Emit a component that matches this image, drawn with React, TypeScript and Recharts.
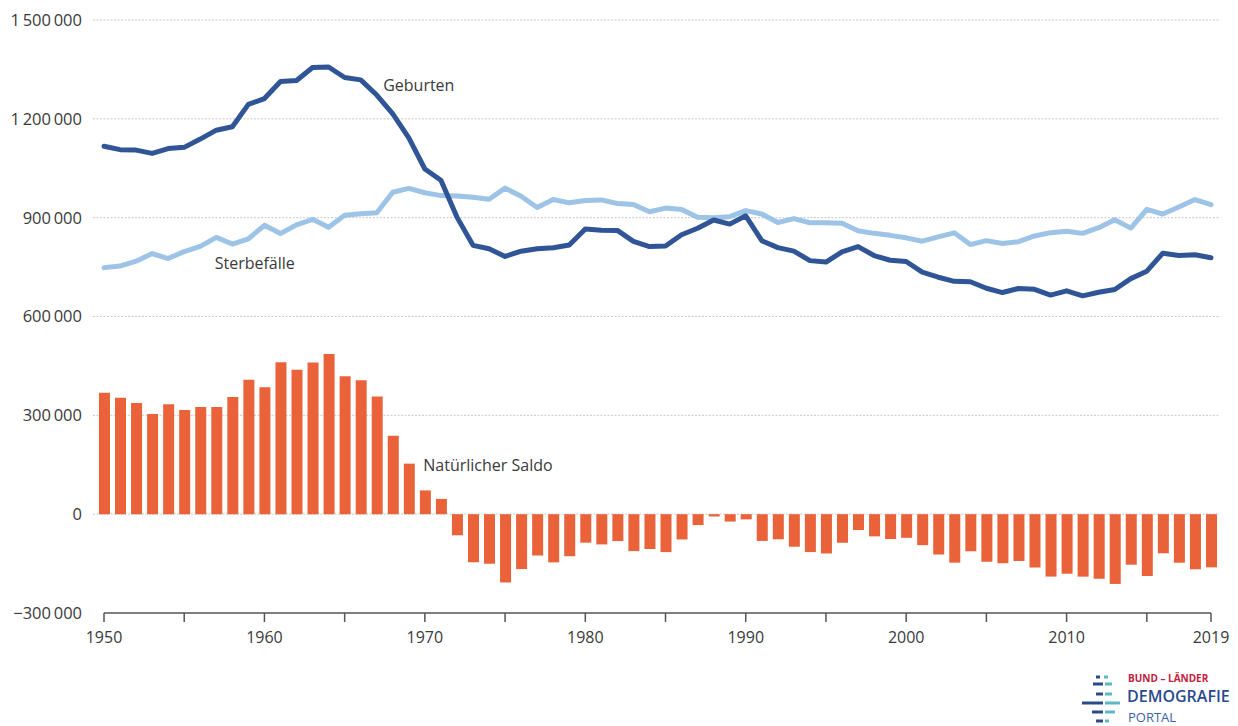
import React from 'react';
import {
  ComposedChart,
  Bar,
  Line,
  XAxis,
  YAxis,
  CartesianGrid,
  ReferenceLine,
  ReferenceDot,
} from 'recharts';

const years = [
  1950, 1951, 1952, 1953, 1954, 1955, 1956, 1957, 1958, 1959,
  1960, 1961, 1962, 1963, 1964, 1965, 1966, 1967, 1968, 1969,
  1970, 1971, 1972, 1973, 1974, 1975, 1976, 1977, 1978, 1979,
  1980, 1981, 1982, 1983, 1984, 1985, 1986, 1987, 1988, 1989,
  1990, 1991, 1992, 1993, 1994, 1995, 1996, 1997, 1998, 1999,
  2000, 2001, 2002, 2003, 2004, 2005, 2006, 2007, 2008, 2009,
  2010, 2011, 2012, 2013, 2014, 2015, 2016, 2017, 2018, 2019,
];

const geburten = [
  1116701, 1106380, 1105084, 1095029, 1109743, 1113408, 1138579, 1165555, 1175870, 1243922,
  1261614, 1313505, 1316534, 1355595, 1357304, 1325386, 1318303, 1272276, 1214968, 1142366,
  1047737, 1013396, 901657, 815969, 805500, 782310, 798334, 805496, 808619, 817217,
  865789, 862100, 861275, 827933, 812292, 813803, 848232, 867969, 892993, 880459,
  905675, 830019, 809114, 798447, 769603, 765221, 796013, 812173, 785034, 770744,
  766999, 734475, 719250, 706721, 705622, 685795, 672724, 684862, 682514, 665126,
  677947, 662685, 673544, 682069, 714927, 737575, 792141, 784901, 787523, 778090,
];

const sterbefaelle = [
  748329, 753000, 768000, 791000, 776000, 797000, 813000, 840000, 820000, 836000,
  876721, 852000, 878000, 895000, 871000, 907000, 912000, 915000, 977000, 989000,
  975664, 967000, 965689, 962000, 956000, 989648, 965000, 931000, 955000, 945000,
  952371, 954000, 943000, 940000, 918000, 929000, 925000, 901000, 900000, 903000,
  921445, 911245, 885443, 897270, 884661, 884588, 882843, 860389, 852382, 846330,
  838797, 828541, 841686, 853946, 818271, 830227, 821627, 827155, 844439, 854544,
  858768, 852328, 869582, 893825, 868356, 925200, 910899, 932272, 954874, 939520,
];

const saldo = [
  368372, 353380, 337084, 304029, 333743, 316408, 325579, 325555, 355870, 407922,
  384893, 461505, 438534, 460595, 486304, 418386, 406303, 357276, 237968, 153366,
  72073, 46396, -64032, -146031, -150500, -207338, -166666, -125504, -146381, -127783,
  -86582, -91900, -81725, -112067, -105708, -115197, -76768, -33031, -7007, -22541,
  -15770, -81226, -76329, -98823, -115058, -119367, -86830, -48216, -67348, -75586,
  -71798, -94066, -122436, -147225, -112649, -144432, -148903, -142293, -161925, -189418,
  -180821, -189643, -196038, -211756, -153429, -187625, -118758, -147371, -167351, -161430,
];

const yTicks = [-300000, 0, 300000, 600000, 900000, 1200000, 1500000];
const gridValues = [0, 300000, 600000, 900000, 1200000, 1500000];
const xTicks = [1950, 1955, 1960, 1965, 1970, 1975, 1980, 1985, 1990, 1995, 2000, 2005, 2010, 2015, 2019];
const xLabels = [1950, 1960, 1970, 1980, 1990, 2000, 2010, 2019];

const data = years.map((year, i) => ({
  year,
  geburten: geburten[i],
  sterbefaelle: sterbefaelle[i],
  saldo: saldo[i],
}));

const FONT = "'Open Sans', 'Noto Sans', sans-serif";
const TEXT = '#3a3a3a';

const formatY = (v: number) => {
  if (v === 0) return '0';
  const abs = Math.abs(v).toString();
  const groups: string[] = [];
  for (let i = abs.length; i > 0; i -= 3) groups.unshift(abs.slice(Math.max(0, i - 3), i));
  return (v < 0 ? '\u2212' : '') + groups.join('\u2009');
};

const Logo = () => (
  <svg
    width={160}
    height={56}
    style={{ position: 'absolute', left: 1078, top: 670 }}
  >
    {[
      [18, 7, 4, 26, 4],
      [15, 14, 10, 27, 7],
      [18, 24, 7, 27, 7],
      [4, 33, 21, 27, 15],
      [14, 42, 11, 27, 10],
      [18, 51, 7, 27, 4],
    ].map(([dx, y, dw, tx, tw], i) => (
      <g key={i}>
        <rect x={dx} y={y - 1.5} width={dw} height={3} fill="#2b4a8c" />
        <rect x={tx} y={y - 1.5} width={tw} height={3} fill="#5bb8c4" />
      </g>
    ))}
    <text x={50} y={12} fontFamily={FONT} fontSize={10} fontWeight={700} fill="#c4213f">
      BUND – LÄNDER
    </text>
    <text x={49} y={32} fontFamily={FONT} fontSize={16} fontWeight={600} fill="#2b4a8c">
      DEMOGRAFIE
    </text>
    <text x={50} y={52} fontFamily={FONT} fontSize={13} fontWeight={500} fill="#3a63a8">
      PORTAL
    </text>
  </svg>
);

export default function App() {
  return (
    <div style={{ position: 'absolute', left: 0, top: 0, width: 1238, height: 726, background: '#fff', fontFamily: FONT }}>
      <ComposedChart
        width={1238}
        height={726}
        data={data}
        margin={{ top: 20, right: 18, bottom: 83, left: 0 }}
      >
        <CartesianGrid
          horizontal
          vertical={false}
          horizontalValues={gridValues}
          stroke="#c8c8c8"
          strokeDasharray="2 1.5"
        />
        <XAxis
          dataKey="year"
          type="number"
          domain={[1950, 2019]}
          ticks={xTicks}
          interval={0}
          padding={{ left: 11, right: 9 }}
          axisLine={false}
          tickLine={{ stroke: '#555', strokeWidth: 1.5 }}
          tickSize={9}
          tickMargin={10}
          height={30}
          tickFormatter={(v: number) => (xLabels.includes(v) ? String(v) : '')}
          tick={{ fontSize: 16, fill: TEXT, fontFamily: FONT }}
        />
        <YAxis
          type="number"
          domain={[-300000, 1500000]}
          ticks={yTicks}
          interval={0}
          width={93}
          axisLine={false}
          tickLine={false}
          tickMargin={5}
          tickFormatter={formatY}
          tick={{ fontSize: 16.5, fill: TEXT, fontFamily: FONT }}
        />
        <ReferenceLine
          segment={[
            { x: 1950, y: -300000 },
            { x: 2019, y: -300000 },
          ]}
          stroke="#555"
          strokeWidth={1.5}
        />
        <Bar dataKey="saldo" fill="#e9623a" barSize={11} isAnimationActive={false} />
        <Line
          dataKey="sterbefaelle"
          stroke="#9dc3e6"
          strokeWidth={5}
          dot={false}
          strokeLinejoin="round"
          strokeLinecap="round"
          type="linear"
          isAnimationActive={false}
        />
        <Line
          dataKey="geburten"
          stroke="#2f5597"
          strokeWidth={5}
          dot={false}
          strokeLinejoin="round"
          strokeLinecap="round"
          type="linear"
          isAnimationActive={false}
        />
        <ReferenceDot
          x={1967.4}
          y={1302000}
          r={0}
          stroke="none"
          fill="none"
          label={{ value: 'Geburten', position: 'right', offset: 0, fontSize: 16, fill: TEXT, fontFamily: FONT }}
        />
        <ReferenceDot
          x={1956.9}
          y={762000}
          r={0}
          stroke="none"
          fill="none"
          label={{ value: 'Sterbefälle', position: 'right', offset: 0, fontSize: 16, fill: TEXT, fontFamily: FONT }}
        />
        <ReferenceDot
          x={1969.9}
          y={149000}
          r={0}
          stroke="none"
          fill="none"
          label={{ value: 'Natürlicher Saldo', position: 'right', offset: 0, fontSize: 16, fill: TEXT, fontFamily: FONT }}
        />
      </ComposedChart>
      <Logo />
    </div>
  );
}
